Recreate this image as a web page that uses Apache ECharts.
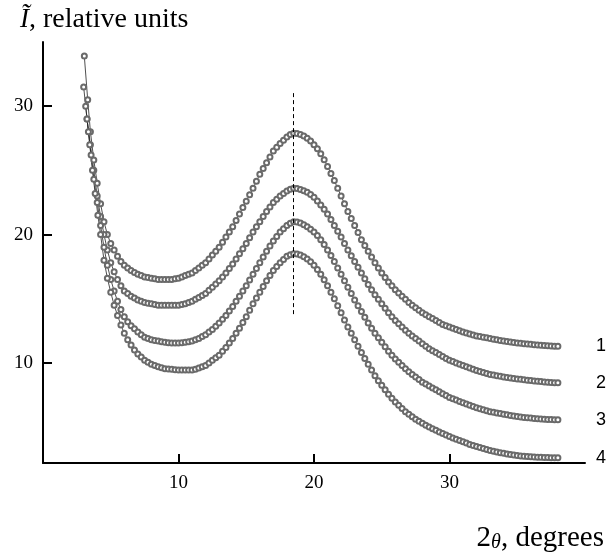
<!DOCTYPE html>
<html>
<head>
<meta charset="utf-8">
<script src="https://cdn.jsdelivr.net/npm/echarts@6/dist/echarts.min.js"></script>
<style>html,body{margin:0;padding:0;background:#fff}#c{width:609px;height:555px}</style>
</head>
<body>
<div id="c"></div>
<script>
var xTicks = [10, 20, 30];
var yTicks = [10, 20, 30];
var seriesNames = ['1', '2', '3', '4'];
var peakX = 18.5;
var peakLine = [13.8, 31.2];

// steep low-angle parts (2θ < 5)
var xHead1 = [3.05, 3.3, 3.5, 3.75, 4, 4.25, 4.5, 4.75];
var yHead1 = [33.9, 30.5, 28.0, 25.8, 24.0, 22.4, 21.0, 20.0];
var xHead2 = [3.0, 3.25, 3.5, 3.75, 4, 4.25, 4.5, 4.75];
var yHead2 = [31.5, 29.0, 27.0, 25.0, 23.0, 21.4, 20.0, 18.8];
var xHead3 = [3.15, 3.35, 3.55, 3.75, 4, 4.25, 4.5, 4.75];
var yHead3 = [30.0, 28.0, 26.2, 24.3, 22.5, 20.7, 19.0, 17.6];
var xHead4 = [3.25, 3.45, 3.65, 3.85, 4.05, 4.25, 4.5, 4.75];
var yHead4 = [29.0, 27.0, 25.0, 23.2, 21.5, 20.0, 18.0, 16.6];

// shared angles 5 .. 38
var xTail = [
  5, 5.25, 5.5, 5.75, 6, 6.25, 6.5, 6.75, 7, 7.25, 7.5, 7.75, 8, 8.25, 8.5, 8.75,
  9, 9.25, 9.5, 9.75, 10, 10.25, 10.5, 10.75, 11, 11.25, 11.5, 11.75, 12, 12.25, 12.5, 12.75,
  13, 13.25, 13.5, 13.75, 14, 14.25, 14.5, 14.75, 15, 15.25, 15.5, 15.75, 16, 16.25, 16.5, 16.75,
  17, 17.25, 17.5, 17.75, 18, 18.25, 18.5, 18.75, 19, 19.25, 19.5, 19.75, 20, 20.25, 20.5, 20.75,
  21, 21.25, 21.5, 21.75, 22, 22.25, 22.5, 22.75, 23, 23.25, 23.5, 23.75, 24, 24.25, 24.5, 24.75,
  25, 25.25, 25.5, 25.75, 26, 26.25, 26.5, 26.75, 27, 27.25, 27.5, 27.75, 28, 28.25, 28.5, 28.75,
  29, 29.25, 29.5, 29.75, 30, 30.25, 30.5, 30.75, 31, 31.25, 31.5, 31.75, 32, 32.25, 32.5, 32.75,
  33, 33.25, 33.5, 33.75, 34, 34.25, 34.5, 34.75, 35, 35.25, 35.5, 35.75, 36, 36.25, 36.5, 36.75,
  37, 37.25, 37.5, 37.75, 38
];
var yTail1 = [
  19.3, 18.8, 18.3, 17.9, 17.6, 17.4, 17.2, 17.05, 16.9, 16.8, 16.7, 16.65, 16.6, 16.55, 16.5, 16.5,
  16.5, 16.5, 16.5, 16.55, 16.6, 16.7, 16.8, 16.9, 17.0, 17.2, 17.4, 17.6, 17.8, 18.1, 18.4, 18.7,
  19.0, 19.4, 19.8, 20.2, 20.6, 21.1, 21.6, 22.1, 22.6, 23.1, 23.6, 24.15, 24.7, 25.15, 25.6, 26.05,
  26.5, 26.8, 27.1, 27.35, 27.6, 27.8, 27.9, 27.88, 27.8, 27.68, 27.5, 27.28, 27.0, 26.68, 26.3, 25.82,
  25.3, 24.76, 24.2, 23.6, 23.0, 22.4, 21.8, 21.25, 20.7, 20.15, 19.6, 19.15, 18.7, 18.25, 17.8, 17.4,
  17.0, 16.65, 16.3, 16.0, 15.7, 15.45, 15.2, 14.95, 14.7, 14.5, 14.3, 14.1, 13.9, 13.75, 13.6, 13.45,
  13.3, 13.15, 13.0, 12.9, 12.8, 12.7, 12.6, 12.5, 12.4, 12.32, 12.25, 12.17, 12.1, 12.05, 12.0, 11.95,
  11.9, 11.85, 11.8, 11.75, 11.7, 11.66, 11.62, 11.58, 11.55, 11.52, 11.5, 11.47, 11.45, 11.42, 11.4, 11.37,
  11.35, 11.34, 11.32, 11.3, 11.3
];
var yTail2 = [
  17.8, 17.1, 16.5, 16.0, 15.6, 15.4, 15.2, 15.05, 14.9, 14.8, 14.7, 14.65, 14.6, 14.55, 14.5, 14.5,
  14.5, 14.5, 14.5, 14.5, 14.5, 14.55, 14.6, 14.7, 14.8, 14.95, 15.1, 15.25, 15.4, 15.65, 15.9, 16.15,
  16.4, 16.7, 17.0, 17.35, 17.7, 18.1, 18.5, 18.9, 19.3, 19.75, 20.2, 20.6, 21.0, 21.4, 21.8, 22.15,
  22.5, 22.75, 23.0, 23.2, 23.4, 23.52, 23.6, 23.58, 23.5, 23.42, 23.3, 23.12, 22.9, 22.62, 22.3, 21.97,
  21.6, 21.17, 20.7, 20.25, 19.8, 19.3, 18.8, 18.35, 17.9, 17.45, 17.0, 16.55, 16.1, 15.7, 15.3, 14.95,
  14.6, 14.25, 13.9, 13.6, 13.3, 13.05, 12.8, 12.55, 12.3, 12.1, 11.9, 11.7, 11.5, 11.3, 11.1, 10.95,
  10.8, 10.65, 10.5, 10.35, 10.2, 10.1, 10.0, 9.9, 9.8, 9.7, 9.6, 9.5, 9.4, 9.32, 9.25, 9.17,
  9.1, 9.05, 9.0, 8.95, 8.9, 8.86, 8.82, 8.78, 8.75, 8.72, 8.68, 8.65, 8.62, 8.59, 8.56, 8.54,
  8.52, 8.5, 8.48, 8.46, 8.45
];
var yTail3 = [
  16.5, 15.6, 14.8, 14.15, 13.6, 13.2, 12.9, 12.65, 12.4, 12.2, 12.0, 11.9, 11.8, 11.75, 11.7, 11.65,
  11.6, 11.57, 11.55, 11.55, 11.55, 11.57, 11.6, 11.65, 11.7, 11.8, 11.9, 12.05, 12.2, 12.4, 12.6, 12.85,
  13.1, 13.4, 13.7, 14.05, 14.4, 14.8, 15.2, 15.6, 16.0, 16.45, 16.9, 17.35, 17.8, 18.25, 18.7, 19.1,
  19.5, 19.85, 20.2, 20.45, 20.7, 20.88, 21.0, 20.98, 20.9, 20.77, 20.6, 20.42, 20.2, 19.92, 19.6, 19.22,
  18.8, 18.37, 17.9, 17.4, 16.9, 16.4, 15.9, 15.4, 14.9, 14.45, 14.0, 13.55, 13.1, 12.7, 12.3, 11.95,
  11.6, 11.25, 10.9, 10.6, 10.3, 10.05, 9.8, 9.55, 9.3, 9.1, 8.9, 8.7, 8.5, 8.35, 8.2, 8.05,
  7.9, 7.75, 7.6, 7.45, 7.3, 7.2, 7.1, 7.0, 6.9, 6.8, 6.7, 6.6, 6.5, 6.42, 6.35, 6.27,
  6.2, 6.15, 6.1, 6.05, 6.0, 5.95, 5.9, 5.86, 5.82, 5.78, 5.75, 5.72, 5.7, 5.67, 5.65, 5.62,
  5.6, 5.59, 5.58, 5.57, 5.56
];
var yTail4 = [
  15.5, 14.5, 13.7, 12.95, 12.3, 11.8, 11.4, 11.0, 10.7, 10.45, 10.2, 10.05, 9.9, 9.8, 9.7, 9.62,
  9.55, 9.52, 9.5, 9.47, 9.45, 9.45, 9.45, 9.45, 9.45, 9.5, 9.6, 9.7, 9.8, 10.0, 10.2, 10.4,
  10.6, 10.9, 11.2, 11.55, 11.9, 12.3, 12.7, 13.15, 13.6, 14.1, 14.6, 15.05, 15.5, 15.95, 16.4, 16.8,
  17.2, 17.5, 17.8, 18.05, 18.3, 18.42, 18.5, 18.48, 18.4, 18.27, 18.1, 17.87, 17.6, 17.27, 16.9, 16.47,
  16.0, 15.5, 15.0, 14.45, 13.9, 13.35, 12.8, 12.3, 11.8, 11.3, 10.8, 10.35, 9.9, 9.45, 9.0, 8.6,
  8.25, 7.9, 7.55, 7.25, 6.95, 6.7, 6.45, 6.2, 6.0, 5.8, 5.6, 5.45, 5.3, 5.15, 5.0, 4.87,
  4.75, 4.62, 4.5, 4.38, 4.27, 4.15, 4.05, 3.95, 3.85, 3.75, 3.65, 3.56, 3.48, 3.4, 3.32, 3.25,
  3.18, 3.12, 3.06, 3.0, 2.95, 2.9, 2.86, 2.82, 2.78, 2.75, 2.72, 2.7, 2.68, 2.66, 2.65, 2.64,
  2.63, 2.62, 2.61, 2.6, 2.6
];

var heads = [[xHead1, yHead1], [xHead2, yHead2], [xHead3, yHead3], [xHead4, yHead4]];
var tails = [yTail1, yTail2, yTail3, yTail4];

function build(i) {
  var xs = heads[i][0].concat(xTail);
  var ys = heads[i][1].concat(tails[i]);
  return xs.map(function (x, k) { return [x, ys[k]]; });
}

var serif = '"Liberation Serif", "DejaVu Serif", serif';
var sans = '"Liberation Sans", Arial, sans-serif';

var series = seriesNames.map(function (name, i) {
  var s = {
    name: name,
    type: 'line',
    data: build(i),
    symbol: 'emptyCircle',
    symbolSize: 5,
    showAllSymbol: true,
    lineStyle: { color: '#222', width: 0.8 },
    itemStyle: { color: '#6a6a6a', borderWidth: 1.1 },
    animation: false,
    z: 3,
    endLabel: {
      show: true,
      formatter: '{a}',
      distance: 38,
      color: '#000',
      fontFamily: sans,
      fontSize: 18
    }
  };
  if (i === 0) {
    s.markLine = {
      silent: true,
      symbol: ['none', 'none'],
      label: { show: false },
      lineStyle: { color: '#000', type: [4, 3], width: 1 },
      data: [[{ coord: [peakX, peakLine[0]] }, { coord: [peakX, peakLine[1]] }]]
    };
  }
  return s;
});

var chart = echarts.init(document.getElementById('c'), null, { renderer: 'canvas' });
chart.setOption({
  animation: false,
  backgroundColor: '#fff',
  grid: { left: 43, right: 24, top: 42, bottom: 92, containLabel: false },
  xAxis: {
    type: 'value', min: 0, max: 40,
    splitLine: { show: false },
    axisLine: { lineStyle: { color: '#000', width: 2 } },
    axisTick: { inside: true, length: 9, lineStyle: { color: '#000', width: 2 }, customValues: xTicks },
    axisLabel: { customValues: xTicks, color: '#000', fontFamily: serif, fontSize: 19, margin: 11 }
  },
  yAxis: {
    type: 'value', min: 2.2, max: 35,
    splitLine: { show: false },
    axisLine: { lineStyle: { color: '#000', width: 2 } },
    axisTick: { inside: true, length: 9, lineStyle: { color: '#000', width: 2 }, customValues: yTicks },
    axisLabel: { customValues: yTicks, color: '#000', fontFamily: serif, fontSize: 19, margin: 10 }
  },
  graphic: [
    {
      type: 'text', left: 20, top: 6,
      style: {
        text: '{i|Ĩ}, relative units',
        rich: { i: { fontStyle: 'italic', fontFamily: serif, fontSize: 27, fill: '#000' } },
        fontFamily: serif, fontSize: 28, fill: '#000'
      }
    },
    {
      type: 'text', right: 5, top: 524,
      style: {
        text: '2{t|θ}, degrees',
        rich: { t: { fontStyle: 'italic', fontFamily: serif, fontSize: 20, fill: '#000', padding: [8, 0, 0, 0] } },
        fontFamily: serif, fontSize: 29, fill: '#000'
      }
    }
  ],
  series: series
});
</script>
</body>
</html>
